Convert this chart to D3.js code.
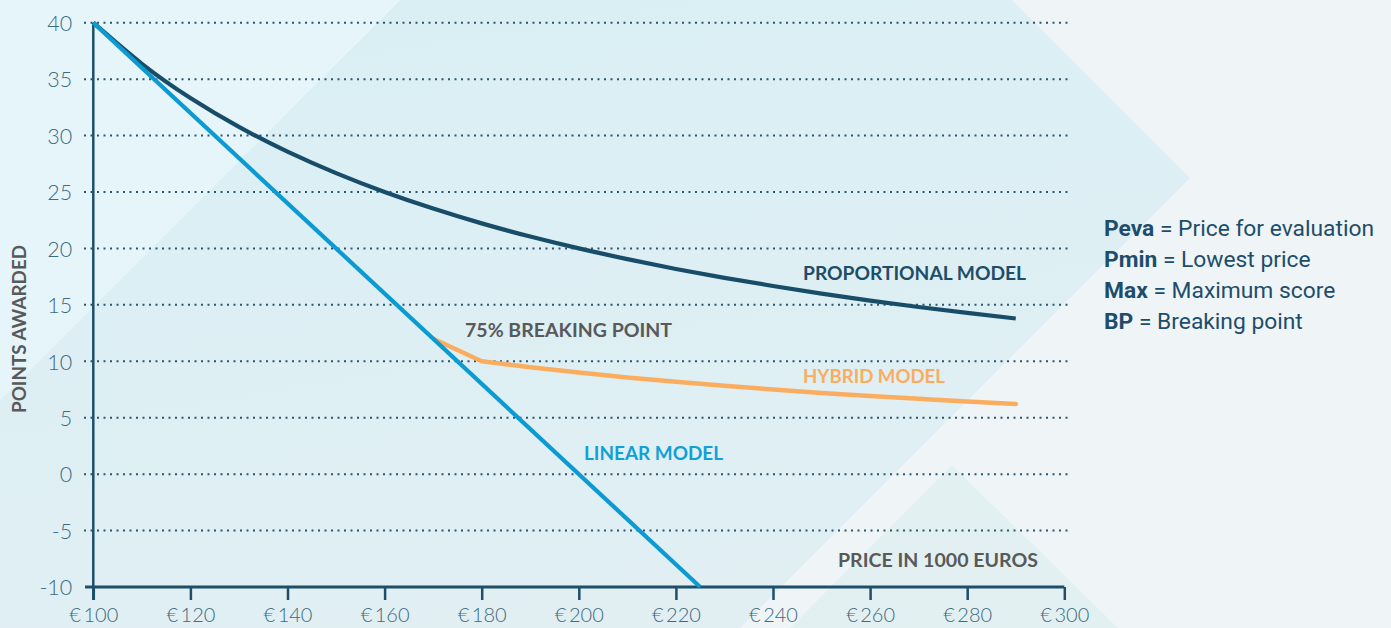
<!DOCTYPE html>
<html>
<head>
<meta charset="utf-8">
<script src="https://cdn.jsdelivr.net/npm/d3@7"></script>
<style>
  html, body { margin: 0; padding: 0; background: #eef5f6; }
  svg { display: block; }
</style>
</head>
<body>
<svg id="chart" width="1391" height="628"></svg>
<script>
// ---------- data ----------
const xTicks = [100, 120, 140, 160, 180, 200, 220, 240, 260, 280, 300];
const yTicks = [40, 35, 30, 25, 20, 15, 10, 5, 0, -5, -10];

const linearPrice  = [100, 225];
const linearPoints = [40, -10];

const propPrice  = [100, 110, 120, 130, 140, 150, 160, 170, 180, 190, 200, 210, 220, 230, 240, 250, 260, 270, 280, 290];
const propPoints = [40, 36.36, 33.33, 30.77, 28.57, 26.67, 25, 23.53, 22.22, 21.05, 20, 19.05, 18.18, 17.39, 16.67, 16.0, 15.38, 14.81, 14.29, 13.79];

const hybridBreakPrice  = [170, 180];
const hybridBreakPoints = [12, 10];
const hybridPrice  = [180, 190, 200, 210, 220, 230, 240, 250, 260, 270, 280, 290];
const hybridPoints = [10, 9.47, 9.0, 8.57, 8.18, 7.83, 7.5, 7.2, 6.92, 6.67, 6.43, 6.21];

const legendKeys = ["Peva", "Pmin", "Max", "BP"];
const legendDescs = ["Price for evaluation", "Lowest price", "Maximum score", "Breaking point"];

// ---------- setup ----------
const svg = d3.select("#chart");
const W = 1391, H = 628;

// background shapes
const bg = svg.append("g");
const defs = svg.append("defs");
const grad = defs.append("linearGradient").attr("id", "bandGrad")
  .attr("x1", "0").attr("y1", "0").attr("x2", "0.3").attr("y2", "1");
grad.append("stop").attr("offset", "0").attr("stop-color", "#d9eff5");
grad.append("stop").attr("offset", "1").attr("stop-color", "#e1eff3");

bg.append("rect").attr("width", W).attr("height", H).attr("fill", "#eff5f6");
bg.append("polygon")
  .attr("points", "400,0 1012,0 1190,178 740,628 0,628 0,400")
  .attr("fill", "url(#bandGrad)");
bg.append("polygon")
  .attr("points", "0,0 400,0 0,400")
  .attr("fill", "#e6f5fa");
bg.append("polygon")
  .attr("points", "952,465 1118,628 790,628")
  .attr("fill", "#e3f0f2");

// scales
const x = d3.scaleLinear().domain([100, 300]).range([93.3, 1064.3]);
const y = d3.scaleLinear().domain([-10, 40]).range([587, 22.7]);

const axisColor = "#1d4f6b";
const g = svg.append("g");

// gridlines (dotted)
g.append("g").selectAll("line")
  .data(yTicks.filter(d => d > -10))
  .join("line")
  .attr("x1", 84).attr("x2", 1068)
  .attr("y1", d => y(d)).attr("y2", d => y(d))
  .attr("stroke", "#2a5670")
  .attr("stroke-width", 2)
  .attr("stroke-dasharray", "2 4.5");

// y axis labels
const yAxis = d3.axisLeft(y).tickValues(yTicks).tickSize(0).tickPadding(21)
  .tickFormat(d => d);
const yg = g.append("g").attr("transform", `translate(${x(100)},0)`).call(yAxis);
yg.select(".domain").remove();
yg.selectAll("text")
  .attr("font-family", "Lato, 'Open Sans', sans-serif")
  .attr("font-weight", 300)
  .attr("font-size", 21.5)
  .attr("fill", "#3d6a80")
  .attr("dy", "0.36em");

// x axis
const xAxis = d3.axisBottom(x).tickValues(xTicks).tickSize(13).tickPadding(8)
  .tickFormat(d => "€\u2009" + d);
const xg = g.append("g").attr("transform", `translate(0,${y(-10)})`).call(xAxis);
xg.select(".domain").remove();
xg.selectAll(".tick line").attr("stroke", axisColor).attr("stroke-width", 2.5);
xg.selectAll("text")
  .attr("font-family", "Lato, 'Open Sans', sans-serif")
  .attr("font-weight", 300)
  .attr("font-size", 20)
  .attr("fill", "#3d6a80");

// axis lines
g.append("line")
  .attr("x1", 85).attr("x2", x(300))
  .attr("y1", y(-10)).attr("y2", y(-10))
  .attr("stroke", axisColor).attr("stroke-width", 3);
g.append("line")
  .attr("x1", x(100)).attr("x2", x(100))
  .attr("y1", y(40)).attr("y2", y(-10) + 13)
  .attr("stroke", axisColor).attr("stroke-width", 2.5);

// lines
const straight = d3.line().x(d => x(d[0])).y(d => y(d[1]));
const smooth = d3.line().x(d => x(d[0])).y(d => y(d[1])).curve(d3.curveNatural);

const orange = "#fbad5f";
const hybridAll = hybridBreakPrice.map((p, i) => [p, hybridBreakPoints[i]]);
g.append("path")
  .attr("d", straight(hybridAll))
  .attr("fill", "none").attr("stroke", orange).attr("stroke-width", 4.5)
  .attr("stroke-linejoin", "round");
g.append("path")
  .attr("d", smooth(hybridPrice.map((p, i) => [p, hybridPoints[i]])))
  .attr("fill", "none").attr("stroke", orange).attr("stroke-width", 4.5)
  .attr("stroke-linecap", "round");

g.append("path")
  .attr("d", smooth(propPrice.map((p, i) => [p, propPoints[i]])))
  .attr("fill", "none").attr("stroke", "#184d69").attr("stroke-width", 4.2);

g.append("path")
  .attr("d", straight(linearPrice.map((p, i) => [p, linearPoints[i]])))
  .attr("fill", "none").attr("stroke", "#0b9bd2").attr("stroke-width", 4.2);

// annotations
const labFont = "Lato, 'Open Sans', sans-serif";
function label(txt, x0, base, len, color) {
  g.append("text")
    .attr("x", x0).attr("y", base)
    .attr("font-family", labFont)
    .attr("font-weight", 700)
    .attr("font-size", 19.5)
    .attr("fill", color)
    .attr("textLength", len)
    .attr("lengthAdjust", "spacingAndGlyphs")
    .text(txt);
}
label("PROPORTIONAL MODEL", 803, 280, 223, "#1c4e6a");
label("75% BREAKING POINT", 465, 337, 207, "#595959");
label("HYBRID MODEL", 803, 383, 142, orange);
label("LINEAR MODEL", 584, 460, 139, "#0fa0d8");
label("PRICE IN 1000 EUROS", 838, 567, 200, "#595959");

g.append("text")
  .attr("transform", "translate(26,329) rotate(-90)")
  .attr("text-anchor", "middle")
  .attr("font-family", labFont)
  .attr("font-weight", 700)
  .attr("font-size", 19)
  .attr("fill", "#595959")
  .attr("textLength", 168)
  .attr("lengthAdjust", "spacingAndGlyphs")
  .text("POINTS AWARDED");

// legend
const leg = svg.append("g");
legendKeys.forEach((k, i) => {
  const t = leg.append("text")
    .attr("x", 1104).attr("y", 236 + i * 31)
    .attr("font-family", "Roboto, sans-serif")
    .attr("font-size", 22.8)
    .attr("fill", "#1e4d6b");
  t.append("tspan").attr("font-weight", 700).text(k);
  t.append("tspan").attr("font-weight", 400).text(" = " + legendDescs[i]);
});
</script>
</body>
</html>
